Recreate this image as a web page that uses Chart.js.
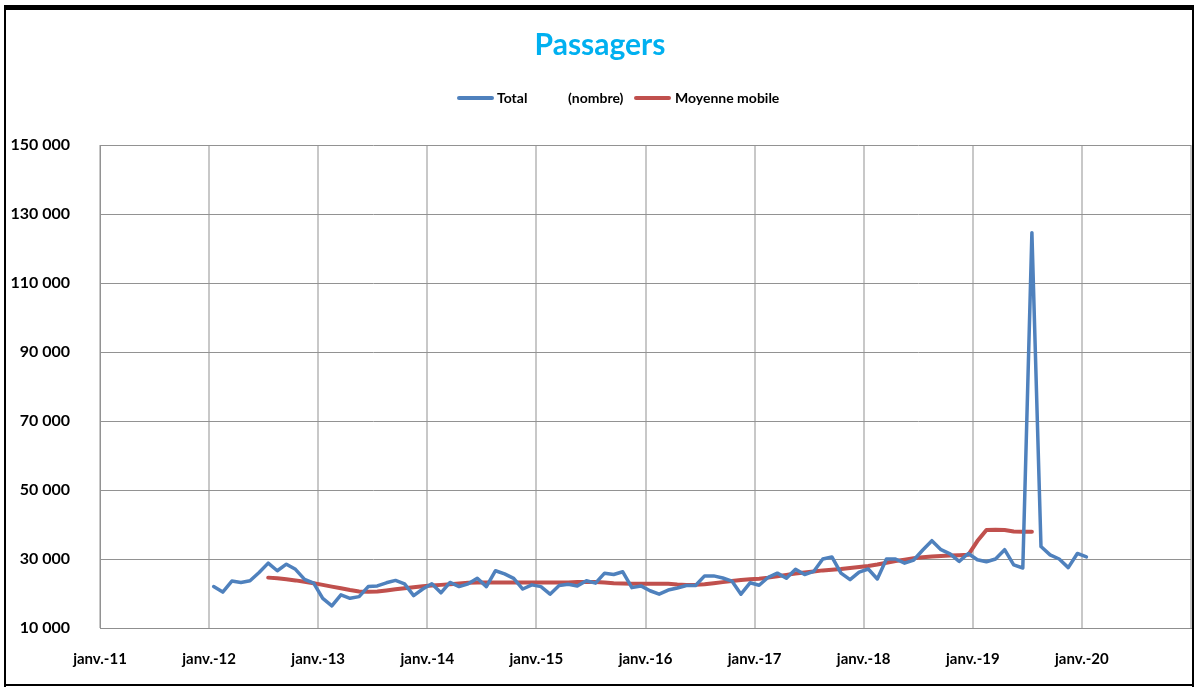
<!DOCTYPE html>
<html>
<head>
<meta charset="utf-8">
<script src="https://cdn.jsdelivr.net/npm/chart.js@4.4.1/dist/chart.umd.min.js"></script>
<style>
  html, body { margin: 0; padding: 0; background: #fff; }
  #wrap { position: relative; width: 1196px; height: 687px; }
  canvas { display: block; }
</style>
</head>
<body>
<div id="wrap"><canvas id="c" width="1196" height="687"></canvas></div>
<script>
// ---- Data ----
const chartTitle = 'Passagers';
const seriesNames = ['Total', 'Moyenne mobile'];
const unitLabel = '(nombre)';
const axisStartYear = 2011;
const xTickLabels = ['janv.-11','janv.-12','janv.-13','janv.-14','janv.-15','janv.-16','janv.-17','janv.-18','janv.-19','janv.-20'];
const yTickLabels = ['10 000','30 000','50 000','70 000','90 000','110 000','130 000','150 000'];
const yTickValues = [10000, 30000, 50000, 70000, 90000, 110000, 130000, 150000];

// Total : janv. 2012 -> janv. 2020 (monthly)
const totalStart = [2012, 1];
const totalValues = [
  22000, 20400, 23600, 23200, 23700, 26100, 28800, 26600, 28500, 27000, 24100, 23000,
  18600, 16400, 19600, 18600, 19100, 22000, 22200, 23100, 23800, 22800, 19400, 21300,
  22800, 20200, 23200, 22000, 22800, 24400, 22000, 26600, 25700, 24400, 21300, 22500,
  22000, 19800, 22300, 22700, 22200, 23700, 23000, 25900, 25500, 26300, 21700, 22200,
  20800, 19800, 21000, 21600, 22300, 22300, 25100, 25100, 24500, 23600, 19800, 23100,
  22400, 24700, 25900, 24400, 27000, 25500, 26400, 30000, 30600, 25900, 24000, 26200,
  27100, 24200, 30000, 30000, 28800, 29700, 32600, 35300, 32700, 31500, 29300, 31600,
  29800, 29200, 30000, 32700, 28300, 27400, 124600, 33600, 31200, 30000, 27500, 31600,
  30600
];

// Moyenne mobile : juil. 2012 -> juil. 2019 (monthly)
const movingAvgStart = [2012, 7];
const movingAvgValues = [
  24600, 24400, 24100, 23800, 23400, 23000,
  22500, 22000, 21500, 21000, 20600, 20500, 20600, 20900, 21200, 21500, 21800, 22100,
  22300, 22500, 22700, 22900, 23100, 23200, 23200, 23200, 23200, 23200, 23200, 23200,
  23200, 23200, 23200, 23200, 23300, 23300, 23300, 23200, 23000, 22900, 22800, 22800,
  22800, 22800, 22800, 22600, 22500, 22500, 22700, 23000, 23300, 23600, 23900, 24100,
  24300, 24600, 25000, 25400, 25800, 26100, 26400, 26700, 26900, 27100, 27400, 27700,
  28000, 28400, 28900, 29400, 29800, 30200, 30500, 30700, 30900, 31000, 31100, 31200,
  35200, 38400, 38500, 38400, 38000, 37900, 37900
];

// ---- Build points: one slot per month, point at the middle of its month ----
function toPoints(start, values) {
  const base = (start[0] - axisStartYear) * 12 + (start[1] - 1);
  return values.map((v, i) => ({ x: base + i + 0.5, y: v }));
}

const COLORS = { total: '#4F81BD', avg: '#C0504D', title: '#00B0F0' };
const FONT = 'Lato, "Open Sans", sans-serif';

const decorPlugin = {
  id: 'decor',
  beforeDraw(chart) {
    const ctx = chart.ctx;
    ctx.save();
    ctx.fillStyle = '#fff';
    ctx.fillRect(0, 0, chart.width, chart.height);
    ctx.restore();
  },
  afterDraw(chart) {
    const ctx = chart.ctx;
    ctx.save();
    // Title
    ctx.fillStyle = COLORS.title;
    ctx.font = 'bold 30px ' + FONT;
    ctx.textAlign = 'center';
    ctx.textBaseline = 'middle';
    ctx.fillText(chartTitle, 600, 45);
    // Legend
    ctx.font = 'bold 14px ' + FONT;
    ctx.textAlign = 'left';
    ctx.fillStyle = '#000';
    ctx.lineCap = 'round';
    ctx.lineWidth = 4;
    const ly = 98;
    ctx.strokeStyle = COLORS.total;
    ctx.beginPath(); ctx.moveTo(459, ly); ctx.lineTo(492, ly); ctx.stroke();
    ctx.fillText(seriesNames[0], 497, ly);
    ctx.fillText(unitLabel, 568, ly);
    ctx.strokeStyle = COLORS.avg;
    ctx.beginPath(); ctx.moveTo(636, ly); ctx.lineTo(669, ly); ctx.stroke();
    ctx.fillText(seriesNames[1], 675, ly);
    // Frame
    ctx.fillStyle = '#000';
    ctx.fillRect(4, 5, 1190, 5);
    ctx.fillRect(4, 5, 2, 682);
    ctx.fillRect(1192, 5, 2, 682);
    ctx.fillRect(4, 684, 1190, 2);
    ctx.restore();
  }
};

new Chart(document.getElementById('c'), {
  type: 'line',
  data: {
    datasets: [
      {
        label: seriesNames[0],
        data: toPoints(totalStart, totalValues),
        borderColor: COLORS.total,
        backgroundColor: COLORS.total,
        borderWidth: 3.5,
        pointRadius: 0,
        tension: 0,
        borderJoinStyle: 'round',
        borderCapStyle: 'round'
      },
      {
        label: seriesNames[1],
        data: toPoints(movingAvgStart, movingAvgValues),
        borderColor: COLORS.avg,
        backgroundColor: COLORS.avg,
        borderWidth: 4,
        pointRadius: 0,
        tension: 0,
        borderJoinStyle: 'round',
        borderCapStyle: 'round'
      }
    ]
  },
  options: {
    responsive: false,
    animation: false,
    layout: { padding: { left: 0, right: 5, top: 145, bottom: 0 } },
    plugins: { legend: { display: false }, title: { display: false }, tooltip: { enabled: false } },
    scales: {
      x: {
        type: 'linear',
        min: 0,
        max: 120,
        afterBuildTicks(scale) {
          scale.ticks = [];
          for (let v = 0; v <= 120; v += 12) scale.ticks.push({ value: v });
        },
        afterFit(scale) {
          scale.height = 59;
          scale.paddingLeft = 0;
          scale.paddingRight = 0;
        },
        ticks: {
          autoSkip: false,
          maxRotation: 0,
          padding: 22,
          color: '#000',
          font: { family: FONT, size: 15, weight: 'bold' },
          callback(value) {
            const i = Math.round(value / 12);
            return xTickLabels[i] !== undefined ? xTickLabels[i] : '';
          }
        },
        grid: { color: '#c8c8c8', lineWidth: 2, drawTicks: false },
        border: { display: true, color: '#8f8f8f', width: 1 }
      },
      y: {
        min: 10000,
        max: 150000,
        afterBuildTicks(scale) {
          scale.ticks = yTickValues.map(v => ({ value: v }));
        },
        afterFit(scale) { scale.width = 100; },
        ticks: {
          padding: 30,
          color: '#000',
          font: { family: FONT, size: 16, weight: 'bold' },
          callback(value) {
            const i = yTickValues.indexOf(value);
            return i >= 0 ? yTickLabels[i] : '';
          }
        },
        grid: { color: '#929292', lineWidth: 1, drawTicks: false },
        border: { display: true, color: '#929292', width: 1 }
      }
    }
  },
  plugins: [decorPlugin]
});
</script>
</body>
</html>
